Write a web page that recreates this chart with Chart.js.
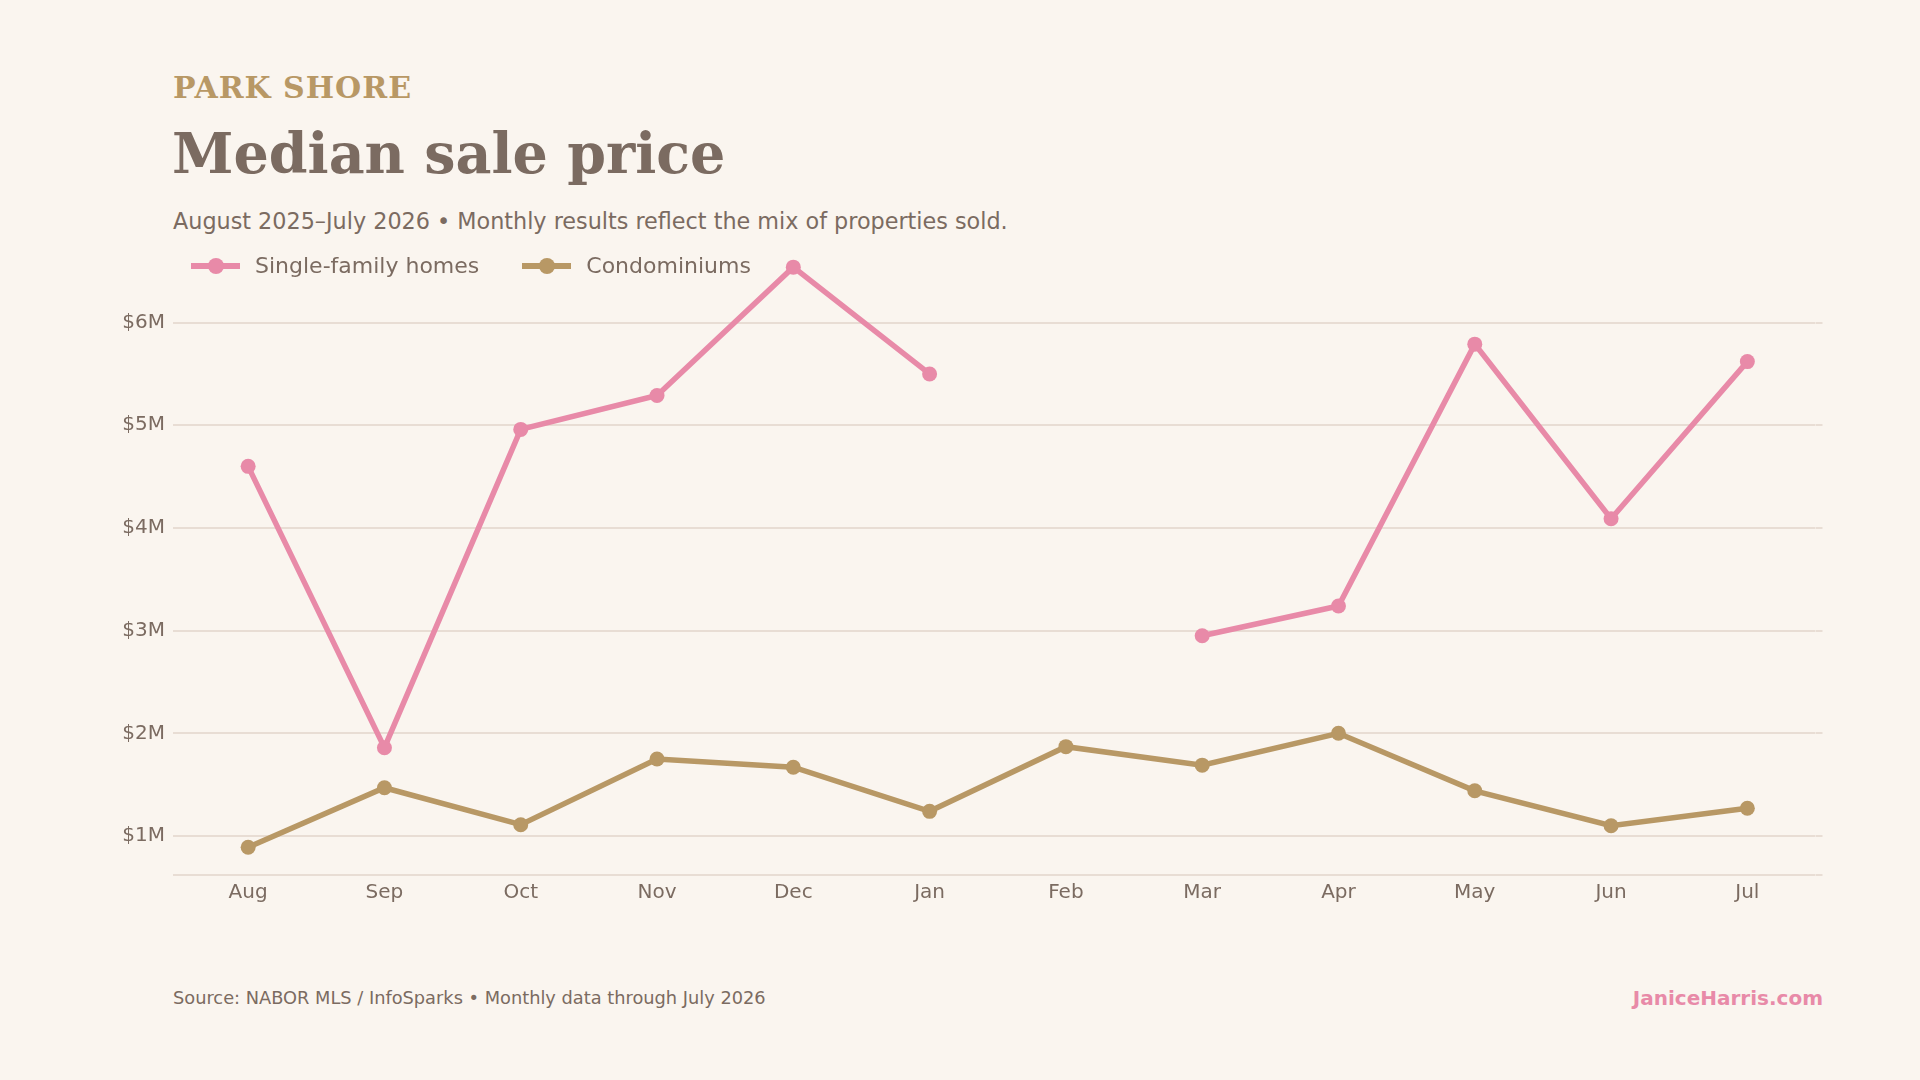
<!DOCTYPE html>
<html>
<head>
<meta charset="utf-8">
<title>Park Shore – Median sale price</title>
<script src="https://cdn.jsdelivr.net/npm/chart.js@4/dist/chart.umd.min.js"></script>
<style>
  html, body { margin: 0; padding: 0; }
  body {
    width: 1920px; height: 1080px; position: relative; overflow: hidden;
    background: #faf5ef; color: #7b6b61; font-family: "DejaVu Sans", sans-serif;
  }
  .abs { position: absolute; line-height: 1; white-space: nowrap; }
  #kicker { left: 173px; top: 70px; font: bold 30px "DejaVu Serif", serif; letter-spacing: 1px; color: #b89865; }
  #title { left: 172px; top: 121px; font: bold 55.5px "DejaVu Serif", serif; color: #7b6b61; }
  #subtitle { left: 173px; top: 210px; font-size: 22.3px; }
  #legend { left: 191px; top: 255px; height: 22px; display: flex; align-items: center; font-size: 22px; z-index: 2; }
  .item { display: flex; align-items: center; margin-right: 43px; }
  .swatch { position: relative; width: 49px; height: 16px; margin-right: 15px; }
  .swatch .ln { position: absolute; left: 0; right: 0; top: 5px; height: 6px; }
  .swatch .dot { position: absolute; left: 16.5px; top: 0; width: 16px; height: 16px; border-radius: 50%; }
  #wrap { position: absolute; left: 100px; top: 251px; width: 1723px; height: 664px; z-index: 1; }
  #source { left: 173px; top: 989px; font-size: 17.8px; }
  #brand { right: 97px; top: 988px; font-size: 20px; font-weight: bold; color: #e88aa8; }
</style>
</head>
<body>
<div id="kicker" class="abs">PARK SHORE</div>
<div id="title" class="abs">Median sale price</div>
<div id="subtitle" class="abs">August 2025–July 2026 • Monthly results reflect the mix of properties sold.</div>
<div id="legend" class="abs"></div>
<div id="wrap"><canvas id="chart"></canvas></div>
<div id="source" class="abs">Source: NABOR MLS / InfoSparks • Monthly data through July 2026</div>
<div id="brand" class="abs">JaniceHarris.com</div>

<script>
const months = ['Aug', 'Sep', 'Oct', 'Nov', 'Dec', 'Jan', 'Feb', 'Mar', 'Apr', 'May', 'Jun', 'Jul'];
// median sale price, dollars (no single-family sale in Feb)
const singleFamily = [4600000, 1860000, 4960000, 5290000, 6540000, 5500000, null, 2950000, 3240000, 5790000, 4090000, 5620000];
const condos = [890000, 1470000, 1110000, 1750000, 1670000, 1240000, 1870000, 1690000, 2000000, 1440000, 1100000, 1270000];
const yTicks = [1000000, 2000000, 3000000, 4000000, 5000000, 6000000];
const yMin = 620000;
const yMax = 6600000;

const pink = '#e88aa8';
const tan = '#b89865';
const ink = '#7b6b61';
const grid = '#e8ddd4';

function series(label, data, color) {
  return {
    label: label,
    data: data,
    borderColor: color,
    backgroundColor: color,
    borderWidth: 5.5,
    pointRadius: 7.5,
    pointHoverRadius: 7.5,
    pointBorderWidth: 0,
    pointBackgroundColor: color,
    tension: 0,
    clip: false
  };
}

// gridlines at the ticks plus the baseline, which gives the bottom rule
const gridTicks = (scale) => {
  scale.ticks = [yMin].concat(yTicks).map((v) => ({ value: v }));
};
const noPad = (w) => (scale) => {
  scale.width = w;
  scale.paddingTop = 0;
  scale.paddingBottom = 0;
};

const chart = new Chart(document.getElementById('chart'), {
  type: 'line',
  data: {
    labels: months,
    datasets: [
      series('Single-family homes', singleFamily, pink),
      series('Condominiums', condos, tan)
    ]
  },
  options: {
    responsive: true,
    maintainAspectRatio: false,
    animation: false,
    devicePixelRatio: 1,
    layout: { padding: { top: 10, right: 0, bottom: 0, left: 0 } },
    plugins: {
      legend: { display: false },
      tooltip: { enabled: false }
    },
    scales: {
      x: {
        offset: true,
        grid: { display: false, drawTicks: false },
        border: { display: false },
        ticks: { color: ink, padding: 6, font: { family: 'DejaVu Sans', size: 20 } },
        afterFit: (scale) => { scale.height = 40; }
      },
      y: {
        min: yMin,
        max: yMax,
        grid: { color: grid, lineWidth: 2, drawTicks: true, tickLength: 7 },
        border: { display: false },
        ticks: {
          color: ink,
          padding: 8,
          font: { family: 'DejaVu Sans', size: 20 },
          callback: (v) => (v === yMin ? '' : '$' + Math.round(v / 1000000) + 'M')
        },
        afterBuildTicks: gridTicks,
        afterFit: noPad(80)
      },
      y2: {
        type: 'linear',
        position: 'right',
        min: yMin,
        max: yMax,
        grid: { color: grid, lineWidth: 2, drawOnChartArea: false, drawTicks: true, tickLength: 7 },
        border: { display: false },
        ticks: { display: false },
        afterBuildTicks: gridTicks,
        afterFit: noPad(7)
      }
    }
  }
});

// html legend built from the datasets
const legend = document.getElementById('legend');
chart.data.datasets.forEach((ds) => {
  const item = document.createElement('div');
  item.className = 'item';
  item.innerHTML = '<span class="swatch"><span class="ln"></span><span class="dot"></span></span>';
  item.querySelector('.ln').style.background = ds.borderColor;
  item.querySelector('.dot').style.background = ds.borderColor;
  item.appendChild(document.createTextNode(ds.label));
  legend.appendChild(item);
});
</script>
</body>
</html>
